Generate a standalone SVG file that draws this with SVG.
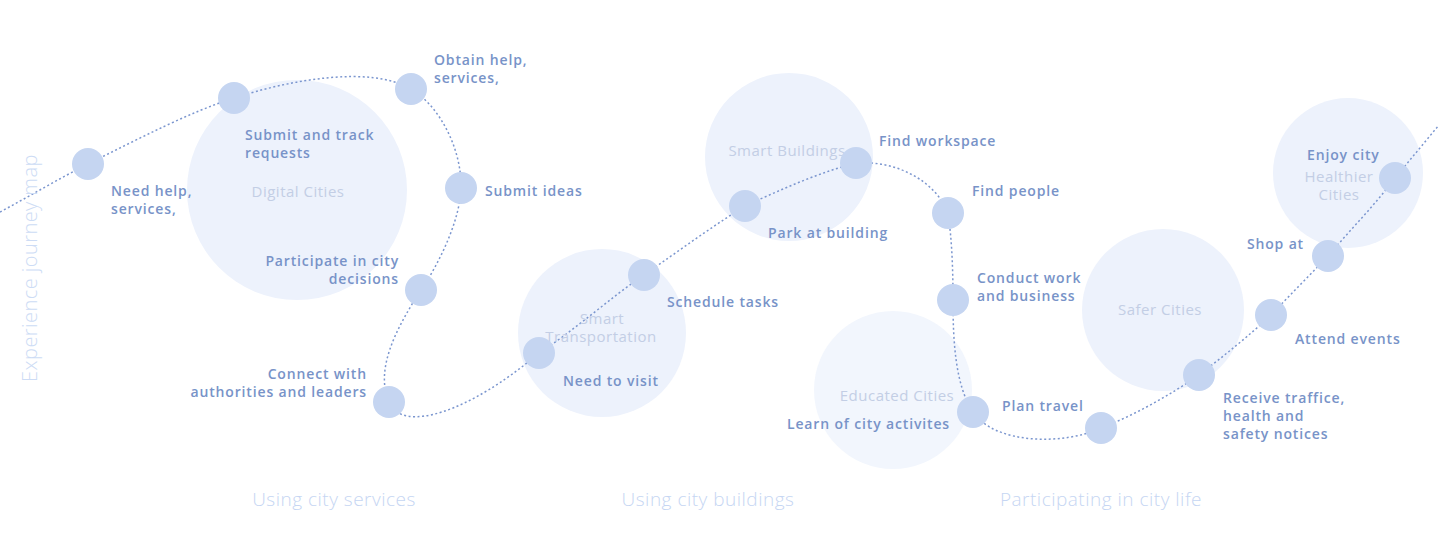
<svg xmlns="http://www.w3.org/2000/svg" width="1439" height="540" viewBox="0 0 1439 540">
  <style>
    .zone { fill: #edf2fc; }
    .zone-soft { fill: #f2f6fd; }
    .zone-label { font-family: "Open Sans", "Noto Sans", sans-serif; font-size: 15px; fill: #c3cee5; text-anchor: middle; letter-spacing: 0.5px; }
    .dot { fill: #c5d5f1; }
    .step { font-family: "Open Sans", "Noto Sans", sans-serif; font-size: 14px; font-weight: 600; fill: #7893c8; letter-spacing: 0.85px; }
    .end { text-anchor: end; }
    .phase { font-family: "Open Sans", "Noto Sans", sans-serif; font-size: 19px; font-weight: 300; fill: #c6d6f3; text-anchor: middle; letter-spacing: 0.5px; }
    .axis { font-family: "Open Sans", "Noto Sans", sans-serif; font-size: 20px; font-weight: 300; fill: #cddcf5; text-anchor: middle; letter-spacing: 0.45px; }
    .route { fill: none; stroke: #7b96cf; stroke-width: 1.5; stroke-dasharray: 2 2.5; }
  </style>

  <!-- background theme areas -->
  <g id="zone-digital">
    <circle class="zone" cx="297" cy="190" r="110"/>
    <text class="zone-label" x="298" y="197">Digital Cities</text>
  </g>
  <g id="zone-transport">
    <circle class="zone" cx="602" cy="333" r="84"/>
  </g>
  <g id="zone-buildings">
    <circle class="zone" cx="789" cy="157" r="84"/>
    <text class="zone-label" x="787" y="156">Smart Buildings</text>
  </g>
  <g id="zone-educated">
    <circle class="zone-soft" cx="893" cy="390" r="79"/>
    <text class="zone-label" x="897" y="401">Educated Cities</text>
  </g>
  <g id="zone-safer">
    <circle class="zone" cx="1163" cy="310" r="81"/>
    <text class="zone-label" x="1160" y="315">Safer Cities</text>
  </g>
  <g id="zone-healthier">
    <circle class="zone" cx="1348" cy="173" r="75"/>
    <text class="zone-label" x="1339" y="182">Healthier</text>
    <text class="zone-label" x="1339" y="200">Cities</text>
  </g>

  <!-- journey route -->
  <g id="connectors">
    <path class="route" d="M0,212 C30,196 60,178 88,164
      C140,138 190,112 234,98
      C290,80 370,65 411,89
      C440,106 462,150 461,188
      C460,220 440,262 421,290
      C395,330 375,370 389,402
      C402,434 470,412 539,353
      C575,330 610,298 644,275
      C680,250 710,228 745,206
      C780,190 820,172 856,163
      C895,160 935,180 948,213
      C952,240 953,270 953,300
      C953,340 955,385 973,412
      C995,445 1065,445 1101,428
      C1135,415 1170,395 1199,375
      C1225,355 1250,335 1271,315
      C1290,295 1310,275 1328,256
      C1350,230 1375,205 1395,178
      L1439,125"/>
  </g>

  <!-- label drawn over the route line -->
  <g id="zone-transport-label">
    <text class="zone-label" x="602" y="324">Smart</text>
    <text class="zone-label" x="601" y="342">Transportation</text>
  </g>

  <!-- journey steps -->
  <g id="step-need-help">
    <circle class="dot" cx="88" cy="164" r="16"/>
    <text class="step" x="111" y="196">Need help,</text>
    <text class="step" x="111" y="214">services,</text>
  </g>
  <g id="step-submit-track">
    <circle class="dot" cx="234" cy="98" r="16"/>
    <text class="step" x="245" y="140">Submit and track</text>
    <text class="step" x="245" y="158">requests</text>
  </g>
  <g id="step-obtain-help">
    <circle class="dot" cx="411" cy="89" r="16"/>
    <text class="step" x="434" y="65">Obtain help,</text>
    <text class="step" x="434" y="83">services,</text>
  </g>
  <g id="step-submit-ideas">
    <circle class="dot" cx="461" cy="188" r="16"/>
    <text class="step" x="485" y="196">Submit ideas</text>
  </g>
  <g id="step-participate">
    <circle class="dot" cx="421" cy="290" r="16"/>
    <text class="step end" x="399" y="266">Participate in city</text>
    <text class="step end" x="399" y="284">decisions</text>
  </g>
  <g id="step-connect">
    <circle class="dot" cx="389" cy="402" r="16"/>
    <text class="step end" x="367" y="379">Connect with</text>
    <text class="step end" x="367" y="397">authorities and leaders</text>
  </g>
  <g id="step-need-visit">
    <circle class="dot" cx="539" cy="353" r="16"/>
    <text class="step" x="563" y="386">Need to visit</text>
  </g>
  <g id="step-schedule">
    <circle class="dot" cx="644" cy="275" r="16"/>
    <text class="step" x="667" y="307">Schedule tasks</text>
  </g>
  <g id="step-park">
    <circle class="dot" cx="745" cy="206" r="16"/>
    <text class="step" x="768" y="238">Park at building</text>
  </g>
  <g id="step-workspace">
    <circle class="dot" cx="856" cy="163" r="16"/>
    <text class="step" x="879" y="146">Find workspace</text>
  </g>
  <g id="step-people">
    <circle class="dot" cx="948" cy="213" r="16"/>
    <text class="step" x="972" y="196">Find people</text>
  </g>
  <g id="step-conduct">
    <circle class="dot" cx="953" cy="300" r="16"/>
    <text class="step" x="977" y="283">Conduct work</text>
    <text class="step" x="977" y="301">and business</text>
  </g>
  <g id="step-plan-travel">
    <circle class="dot" cx="973" cy="412" r="16"/>
    <text class="step" x="1002" y="411">Plan travel</text>
    <text class="step end" x="950" y="429">Learn of city activites</text>
  </g>
  <g id="step-bottom">
    <circle class="dot" cx="1101" cy="428" r="16"/>
  </g>
  <g id="step-notices">
    <circle class="dot" cx="1199" cy="375" r="16"/>
    <text class="step" x="1223" y="403">Receive traffice,</text>
    <text class="step" x="1223" y="421">health and</text>
    <text class="step" x="1223" y="439">safety notices</text>
  </g>
  <g id="step-events">
    <circle class="dot" cx="1271" cy="315" r="16"/>
    <text class="step" x="1295" y="344">Attend events</text>
  </g>
  <g id="step-shop">
    <circle class="dot" cx="1328" cy="256" r="16"/>
    <text class="step end" x="1304" y="249">Shop at</text>
  </g>
  <g id="step-enjoy">
    <circle class="dot" cx="1395" cy="178" r="16"/>
    <text class="step" x="1307" y="160">Enjoy city</text>
  </g>

  <!-- phase captions -->
  <g id="phases">
    <text class="phase" x="334" y="506">Using city services</text>
    <text class="phase" x="708" y="506">Using city buildings</text>
    <text class="phase" x="1101" y="506">Participating in city life</text>
  </g>

  <!-- vertical axis title -->
  <g id="axis-title">
    <text class="axis" transform="translate(37,268) rotate(-90)" x="0" y="0">Experience journey map</text>
  </g>
</svg>
